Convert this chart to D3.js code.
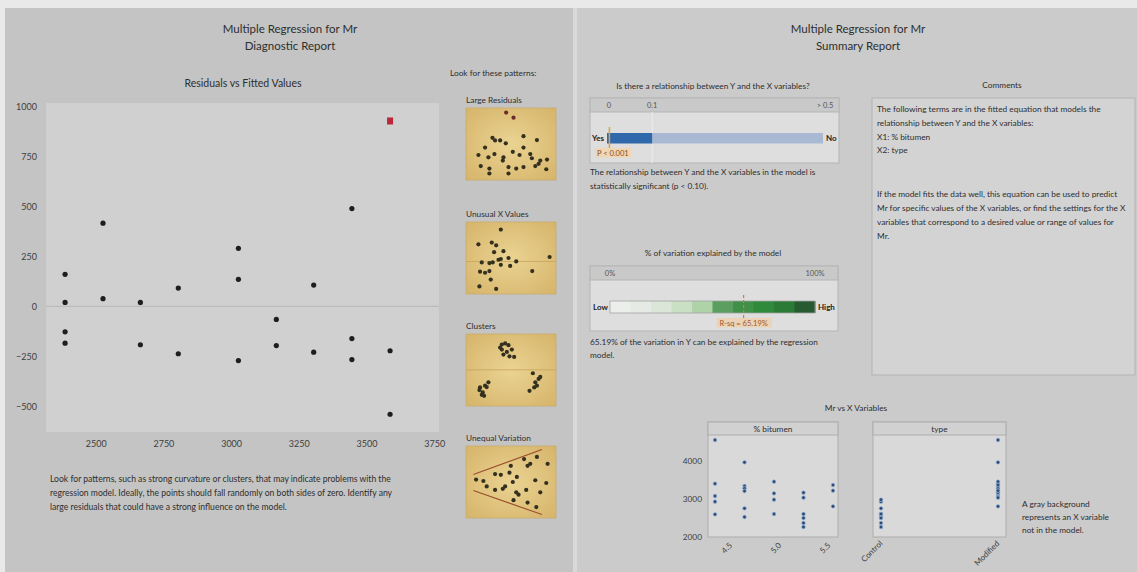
<!DOCTYPE html>
<html>
<head>
<meta charset="utf-8">
<script src="https://cdn.jsdelivr.net/npm/d3@7"></script>
<style>
  body { margin: 0; background: #e9e9e9; }
  svg { display: block; font-family: Lato, "Open Sans", sans-serif; }
</style>
</head>
<body>
<svg id="chart" width="1137" height="572"></svg>
<script>
// ---------- Residuals vs fitted values ----------
const fittedValues = [2387, 2387, 2387, 2387, 2527, 2527, 2665, 2665, 2805, 2805,
  3027, 3027, 3027, 3167, 3167, 3305, 3305, 3446, 3446, 3446, 3587, 3587, 3587];
const residuals = [161, 20, -127, -184, 417, 39, 20, -192, 92, -237,
  291, 136, -271, -65, -196, 107, -229, 490, -161, -266, -222, -540, 929];
const largeResidual = [false, false, false, false, false, false, false, false, false, false,
  false, false, false, false, false, false, false, false, false, false, false, false, true];
const fittedTicks = [2500, 2750, 3000, 3250, 3500, 3750];
const residualTicks = [-500, -250, 0, 250, 500, 750, 1000];

// ---------- Mr vs X variables ----------
const bitumenPct = [4.3, 4.3, 4.3, 4.3, 4.3, 4.6, 4.6, 4.6, 4.6, 4.6, 4.6,
  4.9, 4.9, 4.9, 4.9, 5.2, 5.2, 5.2, 5.2, 5.2, 5.2, 5.5, 5.5, 5.5];
const mrObserved = [4553, 3403, 3079, 2930, 2597, 3965, 3342, 3281, 3210, 2754, 2526,
  3456, 3149, 2982, 2605, 3167, 3035, 2605, 2500, 2368, 2263, 3368, 3219, 2807];
const mixType = ["Modified", "Modified", "Modified", "Control", "Control",
  "Modified", "Modified", "Modified", "Modified", "Control", "Control",
  "Modified", "Modified", "Control", "Control",
  "Modified", "Modified", "Control", "Control", "Control", "Control",
  "Modified", "Modified", "Modified"];
const bitumenTicks = [4.5, 5.0, 5.5];
const typeCategories = ["Control", "Modified"];
const mrTicks = [2000, 3000, 4000];

// ---------- Summary statistics ----------
const pValue = 0.001;
const alphaLevel = 0.1;
const pScaleTicks = [0, 0.1, 0.5];
const pScaleLabels = ["0", "0.1", "> 0.5"];
const rSquared = 65.19;
const rSqBandColors = ["#eceeec", "#e5eae4", "#dbe6d9", "#cae0c5", "#afd3a9",
  "#5b9e5f", "#3f9048", "#2f8a3c", "#2b7b37", "#285a31"];

// ---------- Pattern thumbnails (unit coordinates) ----------
const largeResidPattern = [[0.446,0.063],[0.528,0.135],[0.294,0.414],[0.323,0.450],[0.379,0.450],
  [0.442,0.491],[0.639,0.392],[0.788,0.446],[0.212,0.550],[0.639,0.550],[0.138,0.653],[0.249,0.685],
  [0.316,0.640],[0.416,0.685],[0.409,0.730],[0.520,0.608],[0.595,0.653],[0.714,0.640],[0.732,0.698],
  [0.825,0.730],[0.900,0.716],[0.164,0.806],[0.260,0.842],[0.260,0.910],[0.472,0.820],[0.472,0.910],
  [0.558,0.842],[0.639,0.820],[0.770,0.806],[0.807,0.775],[0.892,0.851]];
const largeResidPatternFlagged = [0, 1];
const unusualXPattern = [[0.387,0.105],[0.138,0.310],[0.286,0.286],[0.335,0.324],[0.312,0.419],
  [0.416,0.405],[0.361,0.524],[0.387,0.514],[0.472,0.500],[0.558,0.548],[0.175,0.562],[0.260,0.571],
  [0.297,0.562],[0.387,0.595],[0.491,0.610],[0.156,0.690],[0.212,0.705],[0.260,0.681],[0.275,0.800],
  [0.149,0.895],[0.335,0.929],[0.929,0.486],[0.736,0.681]];
const clusterPattern = [[0.398,0.146],[0.435,0.131],[0.472,0.155],[0.398,0.216],[0.454,0.249],
  [0.509,0.216],[0.416,0.286],[0.483,0.310],[0.535,0.319],[0.379,0.188],
  [0.156,0.742],[0.212,0.718],[0.249,0.671],[0.186,0.812],[0.230,0.737],[0.175,0.845],[0.201,0.859],[0.149,0.779],
  [0.743,0.545],[0.807,0.624],[0.770,0.671],[0.825,0.596],[0.788,0.718],[0.706,0.789],[0.758,0.742]];
const unequalVarPattern = [[0.112,0.467],[0.193,0.486],[0.230,0.562],[0.323,0.390],[0.387,0.400],
  [0.323,0.610],[0.409,0.595],[0.435,0.562],[0.498,0.276],[0.483,0.371],[0.565,0.429],[0.520,0.500],
  [0.558,0.643],[0.584,0.676],[0.528,0.752],[0.645,0.181],[0.684,0.276],[0.714,0.248],[0.788,0.152],
  [0.770,0.476],[0.669,0.610],[0.825,0.643],[0.892,0.514],[0.907,0.248],[0.684,0.786],[0.781,0.848]];
const unequalVarBounds = [[[0.082,0.395],[0.844,0.048]], [[0.082,0.619],[0.844,0.952]]];

const svg = d3.select("#chart");
const textColor = "#2e2e2e";

// ---------- Panels ----------
svg.append("rect").attr("x", 0).attr("y", 0).attr("width", 1137).attr("height", 572).attr("fill", "#e9e9e9");
svg.append("rect").attr("x", 5).attr("y", 8).attr("width", 568).attr("height", 564).attr("fill", "#c4c4c4");
svg.append("rect").attr("x", 577).attr("y", 8).attr("width", 560).attr("height", 564).attr("fill", "#cbcbcb");
svg.append("rect").attr("x", 573).attr("y", 8).attr("width", 4).attr("height", 564).attr("fill", "#d9d9d9");

function label(x, y, str, opts = {}) {
  return svg.append("text")
    .attr("x", x).attr("y", y)
    .attr("font-size", opts.size || 8.3)
    .attr("font-weight", opts.weight || "normal")
    .attr("text-anchor", opts.anchor || "start")
    .attr("fill", opts.color || textColor)
    .text(str);
}

label(290, 33, "Multiple Regression for Mr", { size: 11.5, anchor: "middle" });
label(290, 50, "Diagnostic Report", { size: 11.5, anchor: "middle" });
label(858, 33, "Multiple Regression for Mr", { size: 11.5, anchor: "middle" });
label(858, 50, "Summary Report", { size: 11.5, anchor: "middle" });

// ---------- Residuals vs fitted plot ----------
const plot = { left: 46, right: 439, top: 103, bottom: 432 };
label(243, 87, "Residuals vs Fitted Values", { size: 10.5, anchor: "middle" });

const xRes = d3.scaleLinear().domain([2316.5, 3767.7]).range([plot.left, plot.right]);
const yRes = d3.scaleLinear().domain([-629, 1019]).range([plot.bottom, plot.top]);

svg.append("rect")
  .attr("x", plot.left).attr("y", plot.top)
  .attr("width", plot.right - plot.left).attr("height", plot.bottom - plot.top)
  .attr("fill", "#d0d0d0");

svg.append("line")
  .attr("x1", plot.left).attr("x2", plot.right)
  .attr("y1", yRes(0)).attr("y2", yRes(0))
  .attr("stroke", "#bbbbbb").attr("stroke-width", 1.2);

const xAxisRes = svg.append("g").attr("transform", `translate(0,${plot.bottom + 4})`)
  .call(d3.axisBottom(xRes).tickValues(fittedTicks).tickSize(0).tickFormat(d3.format("d")));
const yAxisRes = svg.append("g").attr("transform", `translate(${plot.left - 6},0)`)
  .call(d3.axisLeft(yRes).tickValues(residualTicks).tickSize(0).tickFormat(d3.format("d")));
[xAxisRes, yAxisRes].forEach(g => {
  g.select(".domain").remove();
  g.selectAll("text").attr("font-size", 9).attr("fill", "#3e3e3e").attr("font-family", "Lato, sans-serif");
});
xAxisRes.selectAll("text").attr("dy", "0.9em");

const resIdx = d3.range(fittedValues.length);
svg.append("g").selectAll("circle")
  .data(resIdx.filter(i => !largeResidual[i]))
  .join("circle")
  .attr("cx", i => xRes(fittedValues[i]))
  .attr("cy", i => yRes(residuals[i]))
  .attr("r", 2.6)
  .attr("fill", "#1e1e1e");
svg.append("g").selectAll("rect")
  .data(resIdx.filter(i => largeResidual[i]))
  .join("rect")
  .attr("x", i => xRes(fittedValues[i]) - 3)
  .attr("y", i => yRes(residuals[i]) - 3.5)
  .attr("width", 6).attr("height", 7)
  .attr("fill", "#b8283a");

label(50, 482, "Look for patterns, such as strong curvature or clusters, that may indicate problems with the", { size: 8.6 });
label(50, 496, "regression model. Ideally, the points should fall randomly on both sides of zero. Identify any", { size: 8.6 });
label(50, 510, "large residuals that could have a strong influence on the model.", { size: 8.6 });

// ---------- Pattern thumbnails ----------
label(450, 76, "Look for these patterns:", { size: 8.3 });

const defs = svg.append("defs");
const grad = defs.append("radialGradient").attr("id", "thumbFill").attr("cx", "50%").attr("cy", "50%").attr("r", "70%");
grad.append("stop").attr("offset", "0%").attr("stop-color", "#ead392");
grad.append("stop").attr("offset", "100%").attr("stop-color", "#d6b46a");

function thumbnail(y0, title, pts, opts = {}) {
  const box = { x: 466, y: y0, w: 90, h: 72 };
  label(box.x, y0 - 5, title, { size: 8.3 });
  svg.append("rect").attr("x", box.x).attr("y", box.y).attr("width", box.w).attr("height", box.h)
    .attr("fill", "url(#thumbFill)").attr("stroke", "#c9ad6c").attr("stroke-width", 0.8);
  const sx = d3.scaleLinear().domain([0, 1]).range([box.x, box.x + box.w]);
  const sy = d3.scaleLinear().domain([0, 1]).range([box.y, box.y + box.h]);
  if (opts.midline != null) {
    svg.append("line").attr("x1", sx(0)).attr("x2", sx(1))
      .attr("y1", sy(opts.midline)).attr("y2", sy(opts.midline))
      .attr("stroke", "#c7a45a").attr("stroke-width", 0.8);
  }
  if (opts.bounds) {
    svg.append("g").selectAll("line").data(opts.bounds).join("line")
      .attr("x1", d => sx(d[0][0])).attr("y1", d => sy(d[0][1]))
      .attr("x2", d => sx(d[1][0])).attr("y2", d => sy(d[1][1]))
      .attr("stroke", "#9a4e2c").attr("stroke-width", 1.1);
  }
  const flagged = opts.flagged || [];
  svg.append("g").selectAll("circle").data(pts).join("circle")
    .attr("cx", d => sx(d[0])).attr("cy", d => sy(d[1]))
    .attr("r", 2.1)
    .attr("fill", (d, i) => flagged.includes(i) ? "#6e2a28" : "#34301f");
}

thumbnail(108, "Large Residuals", largeResidPattern, { flagged: largeResidPatternFlagged });
thumbnail(222, "Unusual X Values", unusualXPattern, { midline: 0.548 });
thumbnail(334, "Clusters", clusterPattern, { midline: 0.498 });
thumbnail(446, "Unequal Variation", unequalVarPattern, { bounds: unequalVarBounds });

// ---------- P-value meter ----------
label(713, 89, "Is there a relationship between Y and the X variables?", { size: 8.3, anchor: "middle" });
const pBox = { x: 590, y: 98, w: 249, h: 65, head: 14 };
svg.append("rect").attr("x", pBox.x).attr("y", pBox.y).attr("width", pBox.w).attr("height", pBox.h)
  .attr("fill", "#dedede").attr("stroke", "#b5b5b5");
svg.append("rect").attr("x", pBox.x).attr("y", pBox.y).attr("width", pBox.w).attr("height", pBox.head)
  .attr("fill", "#c9c9c9").attr("stroke", "#b5b5b5");

const pScale = d3.scaleLinear().domain([0, 0.5]).range([609, 825]);
pScaleTicks.forEach((t, i) => label(pScale(t), pBox.y + 10, pScaleLabels[i], { size: 7.5, anchor: "middle", color: "#555" }));
svg.append("line").attr("x1", pScale(alphaLevel)).attr("x2", pScale(alphaLevel))
  .attr("y1", pBox.y + pBox.head).attr("y2", pBox.y + pBox.h).attr("stroke", "#ececec");

svg.append("rect").attr("x", pScale(alphaLevel)).attr("y", 133)
  .attr("width", pScale(0.5) - pScale(alphaLevel) - 2).attr("height", 10.5).attr("fill", "#a9b9d4");
svg.append("rect").attr("x", pScale(0) - 2).attr("y", 133)
  .attr("width", pScale(alphaLevel) - pScale(0) + 2).attr("height", 10.5).attr("fill", "#2f69ab");
label(592, 141, "Yes", { size: 8, weight: "bold", color: "#222" });
label(826, 141, "No", { size: 8, weight: "bold", color: "#222" });

svg.append("line").attr("x1", pScale(pValue)).attr("x2", pScale(pValue))
  .attr("y1", 127).attr("y2", 148).attr("stroke", "#e3a23a").attr("stroke-width", 1.5);
svg.append("rect").attr("x", 595).attr("y", 148).attr("width", 36).attr("height", 9.5).attr("fill", "#eed7b2");
label(597, 155.5, `P < ${pValue}`, { size: 7.5, color: "#8c4a2a" });

label(590, 175, "The relationship between Y and the X variables in the model is", { size: 8.3 });
label(590, 189, "statistically significant (p < 0.10).", { size: 8.3 });

// ---------- R-squared meter ----------
label(713, 256, "% of variation explained by the model", { size: 8.3, anchor: "middle" });
const rBox = { x: 590, y: 266, w: 248, h: 65, head: 14 };
svg.append("rect").attr("x", rBox.x).attr("y", rBox.y).attr("width", rBox.w).attr("height", rBox.h)
  .attr("fill", "#dedede").attr("stroke", "#b5b5b5");
svg.append("rect").attr("x", rBox.x).attr("y", rBox.y).attr("width", rBox.w).attr("height", rBox.head)
  .attr("fill", "#c9c9c9").attr("stroke", "#b5b5b5");

const rScale = d3.scaleLinear().domain([0, 100]).range([610, 815]);
label(rScale(0), rBox.y + 10, "0%", { size: 7.5, anchor: "middle", color: "#555" });
label(rScale(100), rBox.y + 10, "100%", { size: 7.5, anchor: "middle", color: "#555" });

svg.append("g").selectAll("rect").data(rSqBandColors).join("rect")
  .attr("x", (d, i) => rScale(i * 10))
  .attr("y", 301)
  .attr("width", (d, i) => rScale((i + 1) * 10) - rScale(i * 10) + 0.5)
  .attr("height", 12)
  .attr("fill", d => d);
svg.append("rect").attr("x", rScale(0)).attr("y", 301).attr("width", rScale(100) - rScale(0)).attr("height", 12)
  .attr("fill", "none").attr("stroke", "#a3a3a3").attr("stroke-width", 0.8);
label(593, 310, "Low", { size: 8, weight: "bold", color: "#222" });
label(818, 310, "High", { size: 8, weight: "bold", color: "#222" });

svg.append("line").attr("x1", rScale(rSquared)).attr("x2", rScale(rSquared))
  .attr("y1", 295).attr("y2", 318).attr("stroke", "#e0733a").attr("stroke-width", 1.2)
  .attr("stroke-dasharray", "3,2");
svg.append("rect").attr("x", rScale(rSquared) - 27).attr("y", 318).attr("width", 55).attr("height", 9.5).attr("fill", "#ead3b6");
label(rScale(rSquared), 325.5, `R-sq = ${rSquared.toFixed(2)}%`, { size: 7.5, anchor: "middle", color: "#a4582c" });

label(590, 345, `${rSquared.toFixed(2)}% of the variation in Y can be explained by the regression`, { size: 8.3 });
label(590, 358, "model.", { size: 8.3 });

// ---------- Comments ----------
label(1002, 88, "Comments", { size: 8.3, anchor: "middle" });
svg.append("rect").attr("x", 872).attr("y", 98).attr("width", 263).attr("height", 277)
  .attr("fill", "#d3d3d3").attr("stroke", "#b3b3b3");
const commentLines = [
  [112, "The following terms are in the fitted equation that models the"],
  [126, "relationship between Y and the X variables:"],
  [140, "X1: % bitumen"],
  [153, "X2: type"],
  [197, "If the model fits the data well, this equation can be used to predict"],
  [211, "Mr for specific values of the X variables, or find the settings for the X"],
  [225, "variables that correspond to a desired value or range of values for"],
  [239, "Mr."]
];
commentLines.forEach(([y, t]) => label(877, y, t, { size: 8.3 }));

// ---------- Mr vs X variables ----------
label(856, 411, "Mr vs X Variables", { size: 8.3, anchor: "middle" });
const yMr = d3.scaleLinear().domain([2000, 4684]).range([537, 435]);

function panel(x0, x1, title) {
  svg.append("rect").attr("x", x0).attr("y", 422).attr("width", x1 - x0).attr("height", 115)
    .attr("fill", "#d9d9d9").attr("stroke", "#adadad");
  svg.append("rect").attr("x", x0).attr("y", 422).attr("width", x1 - x0).attr("height", 13)
    .attr("fill", "#d1d1d1").attr("stroke", "#adadad");
  label((x0 + x1) / 2, 432, title, { size: 8.3, anchor: "middle" });
}
panel(708, 838, "% bitumen");
panel(873, 1006, "type");

const yAxisMr = svg.append("g").attr("transform", "translate(705,0)")
  .call(d3.axisLeft(yMr).tickValues(mrTicks).tickSize(0).tickFormat(d3.format("d")));
yAxisMr.select(".domain").remove();
yAxisMr.selectAll("text").attr("font-size", 8.3).attr("fill", "#3e3e3e").attr("font-family", "Lato, sans-serif");

const xBit = d3.scaleLinear().domain([4.3, 5.5]).range([715, 833]);
const xType = d3.scalePoint().domain(typeCategories).range([881, 998]);

const obsIdx = d3.range(mrObserved.length);
function dots(xAcc) {
  svg.append("g").selectAll("circle").data(obsIdx).join("circle")
    .attr("cx", xAcc).attr("cy", i => yMr(mrObserved[i]))
    .attr("r", 1.9)
    .attr("fill", "#2f4b73")
    .attr("stroke", "#a7c2e4").attr("stroke-opacity", 0.7).attr("stroke-width", 1);
}
dots(i => xBit(bitumenPct[i]));
dots(i => xType(mixType[i]));

bitumenTicks.forEach(t => {
  svg.append("text")
    .attr("transform", `translate(${xBit(t) - 2},546) rotate(-45)`)
    .attr("text-anchor", "end").attr("font-size", 8).attr("fill", "#3e3e3e")
    .text(d3.format(".1f")(t));
});
typeCategories.forEach(c => {
  svg.append("text")
    .attr("transform", `translate(${xType(c) + 2},544) rotate(-45)`)
    .attr("text-anchor", "end").attr("font-size", 8).attr("fill", "#3e3e3e")
    .text(c);
});

label(1022, 507, "A gray background", { size: 8.3 });
label(1022, 520, "represents an X variable", { size: 8.3 });
label(1022, 533, "not in the model.", { size: 8.3 });
</script>
</body>
</html>
